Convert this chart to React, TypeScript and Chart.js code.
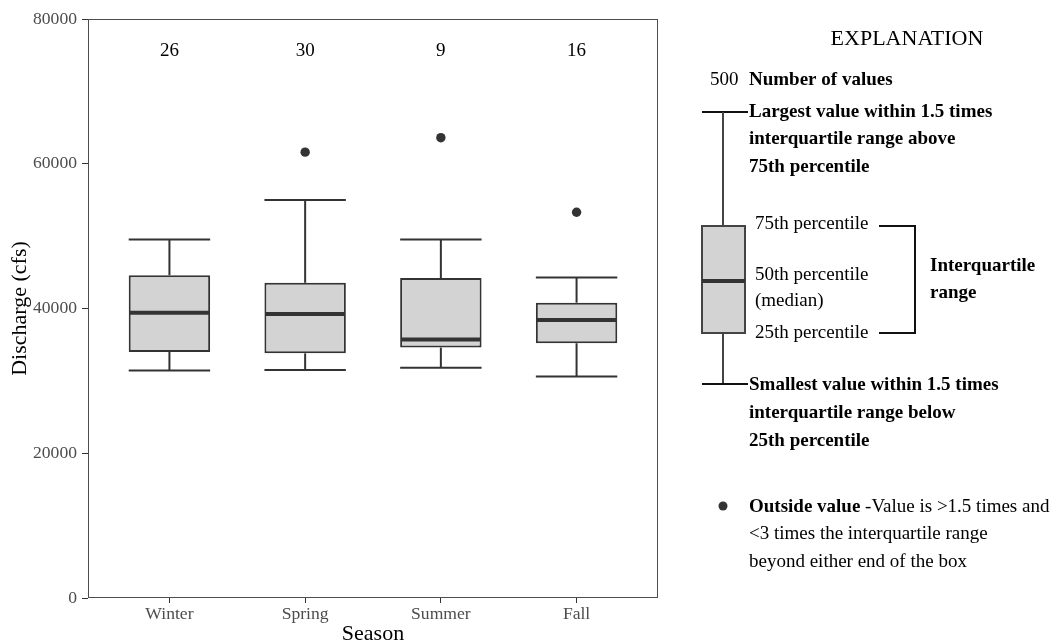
import React, { useEffect, useRef } from "react";
import { Chart, registerables } from "chart.js";

Chart.register(...registerables);

// ---- data ----
const seasons = ["Winter", "Spring", "Summer", "Fall"];
const seasonPos = [1, 2, 3, 4];
const counts = [26, 30, 9, 16];
const whiskerLow = [31450, 31500, 31800, 30600];
const q1 = [34000, 33800, 34600, 35200];
const median = [39400, 39250, 35700, 38400];
const q3 = [44600, 43550, 44200, 40800];
const whiskerHigh = [49550, 55000, 49550, 44300];
const outlierSeason = [2, 3, 4];
const outlierValue = [61600, 63600, 53300];
const yTicks = [0, 20000, 40000, 60000, 80000];

const SERIF = '"Liberation Serif", "Times New Roman", Times, serif';
const COUNT_Y = 75600;

const boxPlugin = {
  id: "boxParts",
  afterDatasetsDraw(chart: any) {
    const { ctx } = chart;
    const x = chart.scales.x;
    const y = chart.scales.y;
    const half = (x.getPixelForValue(1.3) - x.getPixelForValue(0.7)) / 2;
    ctx.save();
    ctx.strokeStyle = "#333333";
    seasonPos.forEach((p, i) => {
      const cx = x.getPixelForValue(p);
      const line = (x1: number, y1: number, x2: number, y2: number, w: number) => {
        ctx.lineWidth = w;
        ctx.beginPath();
        ctx.moveTo(x1, y1);
        ctx.lineTo(x2, y2);
        ctx.stroke();
      };
      line(cx, y.getPixelForValue(q3[i]), cx, y.getPixelForValue(whiskerHigh[i]), 2);
      line(cx - half, y.getPixelForValue(whiskerHigh[i]), cx + half, y.getPixelForValue(whiskerHigh[i]), 2);
      line(cx, y.getPixelForValue(q1[i]), cx, y.getPixelForValue(whiskerLow[i]), 2);
      line(cx - half, y.getPixelForValue(whiskerLow[i]), cx + half, y.getPixelForValue(whiskerLow[i]), 2);
      line(cx - half + 1, y.getPixelForValue(median[i]), cx + half - 1, y.getPixelForValue(median[i]), 4);
      ctx.fillStyle = "#000000";
      ctx.font = `19px ${SERIF}`;
      ctx.textAlign = "center";
      ctx.textBaseline = "middle";
      ctx.fillText(String(counts[i]), cx, y.getPixelForValue(COUNT_Y));
    });
    ctx.restore();
  },
  afterDraw(chart: any) {
    const { ctx, chartArea } = chart;
    ctx.save();
    ctx.strokeStyle = "#4d4d4d";
    ctx.lineWidth = 1;
    ctx.strokeRect(
      Math.round(chartArea.left) + 0.5,
      Math.round(chartArea.top) + 0.5,
      Math.round(chartArea.right - chartArea.left) - 1,
      Math.round(chartArea.bottom - chartArea.top) - 1
    );
    ctx.restore();
  },
};

const explanationPlugin = {
  id: "explanation",
  afterDraw(chart: any) {
    const { ctx } = chart;
    ctx.save();
    ctx.fillStyle = "#000000";
    ctx.textBaseline = "middle";
    ctx.textAlign = "center";
    ctx.font = `22px ${SERIF}`;
    ctx.fillText("EXPLANATION", 907, 39);

    ctx.textAlign = "left";
    const reg = `19px ${SERIF}`;
    const bold = `bold 19px ${SERIF}`;
    const txt = (s: string, x: number, yy: number, f: string) => {
      ctx.font = f;
      ctx.fillText(s, x, yy);
    };
    txt("500", 710, 80, reg);
    txt("Number of values", 749, 80, bold);

    const line = (pts: number[][], w: number, color: string) => {
      ctx.strokeStyle = color;
      ctx.lineWidth = w;
      ctx.beginPath();
      ctx.moveTo(pts[0][0], pts[0][1]);
      for (let k = 1; k < pts.length; k++) ctx.lineTo(pts[k][0], pts[k][1]);
      ctx.stroke();
    };
    // whiskers
    line([[702, 112], [748, 112]], 2, "#111111");
    line([[723, 112], [723, 226]], 2, "#444444");
    line([[723, 333], [723, 384]], 2, "#444444");
    line([[702, 384], [748, 384]], 2, "#111111");
    // box
    ctx.fillStyle = "#d3d3d3";
    ctx.fillRect(702, 226, 43, 107);
    ctx.strokeStyle = "#444444";
    ctx.lineWidth = 2;
    ctx.strokeRect(702, 226, 43, 107);
    line([[702, 281], [745, 281]], 4, "#333333");
    // bracket
    line([[879, 226], [915, 226], [915, 333], [879, 333]], 2, "#111111");

    ctx.fillStyle = "#000000";
    txt("Largest value within 1.5 times", 749, 112, bold);
    txt("interquartile range above", 749, 139, bold);
    txt("75th percentile", 749, 167, bold);

    txt("75th percentile", 755, 224, reg);
    txt("50th percentile", 755, 275, reg);
    txt("(median)", 755, 301, reg);
    txt("25th percentile", 755, 333, reg);

    txt("Interquartile", 930, 266, bold);
    txt("range", 930, 293, bold);

    txt("Smallest value within 1.5 times", 749, 385, bold);
    txt("interquartile range below", 749, 413, bold);
    txt("25th percentile", 749, 441, bold);

    ctx.fillStyle = "#333333";
    ctx.beginPath();
    ctx.arc(723, 506, 4.5, 0, Math.PI * 2);
    ctx.fill();
    ctx.fillStyle = "#000000";
    ctx.font = bold;
    const b = "Outside value ";
    ctx.fillText(b, 749, 507);
    const bw = ctx.measureText(b).width;
    txt("-Value is >1.5 times and", 749 + bw, 507, reg);
    txt("<3 times the interquartile range", 749, 534, reg);
    txt("beyond either end of the box", 749, 562, reg);
    ctx.restore();
  },
};

export default function App() {
  const ref = useRef<HTMLCanvasElement | null>(null);
  useEffect(() => {
    if (!ref.current) return;
    Chart.defaults.font.family = SERIF;
    const chart = new Chart(ref.current, {
      type: "bar",
      data: {
        datasets: [
          {
            type: "bar",
            label: "IQR",
            data: seasonPos.map((p, i) => ({ x: p, y: [q1[i], q3[i]] })) as any,
            backgroundColor: "#d3d3d3",
            borderColor: "#333333",
            borderWidth: 2,
            borderSkipped: false,
            categoryPercentage: 1,
            barPercentage: 0.6,
          } as any,
          {
            type: "scatter",
            label: "Outside",
            data: outlierSeason.map((p, i) => ({ x: p, y: outlierValue[i] })),
            backgroundColor: "#333333",
            borderWidth: 0,
            pointRadius: 4.7,
          } as any,
        ],
      },
      options: {
        animation: false,
        responsive: false,
        devicePixelRatio: 1,
        layout: { padding: { top: 19, right: 399, bottom: 0, left: 0 } },
        plugins: { legend: { display: false }, tooltip: { enabled: false } },
        scales: {
          x: {
            type: "linear",
            min: 0.4,
            max: 4.6,
            offset: false,
            afterBuildTicks: (s: any) => {
              s.ticks = seasonPos.map((v) => ({ value: v }));
            },
            afterFit: (s: any) => {
              s.height = 46;
            },
            border: { display: false },
            grid: { offset: false, drawOnChartArea: false, drawTicks: true, tickLength: 5, color: "#333333", lineWidth: 1 },
            ticks: {
              padding: 1,
              color: "#4d4d4d",
              font: { size: 17.6, family: SERIF },
              autoSkip: false,
              maxRotation: 0,
              callback: (v: any) => seasons[seasonPos.indexOf(Number(v))] ?? "",
            },
            title: {
              display: true,
              text: "Season",
              color: "#000000",
              font: { size: 22, family: SERIF },
              padding: { top: 0, bottom: -3 },
            },
          } as any,
          y: {
            type: "linear",
            min: 0,
            max: 80000,
            afterBuildTicks: (s: any) => {
              s.ticks = yTicks.map((v) => ({ value: v }));
            },
            afterFit: (s: any) => {
              s.width = 88;
            },
            border: { display: false },
            grid: { drawOnChartArea: false, drawTicks: true, tickLength: 6, color: "#333333", lineWidth: 1 },
            ticks: {
              padding: 5,
              color: "#4d4d4d",
              font: { size: 17.6, family: SERIF },
              callback: (v: any) => String(v),
            },
            title: {
              display: true,
              text: "Discharge (cfs)",
              color: "#000000",
              font: { size: 22, family: SERIF },
              padding: { top: 7, bottom: 0 },
            },
          } as any,
        },
      },
      plugins: [boxPlugin, explanationPlugin],
    });
    return () => chart.destroy();
  }, []);
  return (
    <div style={{ position: "absolute", left: 0, top: 0, width: 1057, height: 644, background: "#ffffff" }}>
      <canvas ref={ref} width={1057} height={644} />
    </div>
  );
}
